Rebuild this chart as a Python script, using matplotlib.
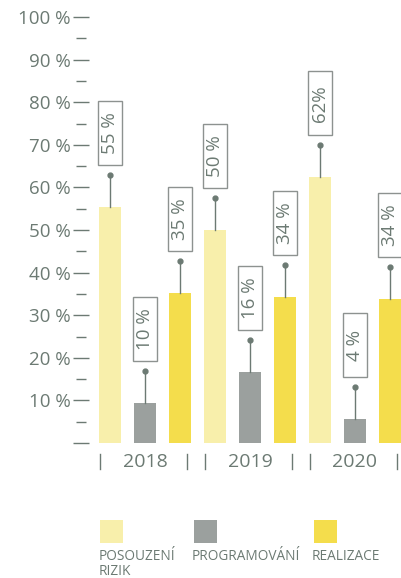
import matplotlib
matplotlib.use("Agg")
import matplotlib.pyplot as plt
from matplotlib.patches import Rectangle

plt.rcParams["font.family"] = ["Open Sans", "DejaVu Sans"]

#----Données----
roky = ["2018", "2019", "2020"]
kategorie = ["POSOUZENÍ\nRIZIK", "PROGRAMOVÁNÍ", "REALIZACE"]
hodnoty = [55.4, 9.4, 35.2, 50.0, 16.7, 34.3, 62.4, 5.6, 33.8]
popisky = ["55 %", "10 %", "35 %", "50 %", "16 %", "34 %", "62%", "4 %", "34 %"]
chyba = 7.5
barvy = ["#f8efab", "#9ba09e", "#f4dd4c"]
text_c = "#6c7a73"
W, H = 402, 578

fig = plt.figure(figsize=(W / 100, H / 100), dpi=100)
ax = fig.add_axes([81 / W, 1 - 443 / H, (W - 81) / W, 426 / H])
ax.set_xlim(-29 / 35, 292 / 35)
ax.set_ylim(0, 100)
for s in ax.spines.values():
    s.set_visible(False)

# osa y
ax.set_yticks(range(0, 101, 10))
ax.set_yticklabels([""] + [f"{v} %" for v in range(10, 101, 10)])
ax.set_yticks(range(5, 100, 10), minor=True)
ax.tick_params(axis="y", which="major", direction="inout", length=12, width=1,
               color=text_c, labelcolor=text_c, labelsize=13.5, pad=1.5)
ax.tick_params(axis="y", which="minor", direction="inout", length=7, width=1, color=text_c)
ax.set_xticks([])

px_y = 100 / 426  # jednotky dat na pixel
for i, (h, lab) in enumerate(zip(hodnoty, popisky)):
    ax.bar(i, h, width=22 / 35, color=barvy[i % 3], clip_on=False)
    ax.plot([i, i], [h, h + chyba], color=text_c, lw=1, clip_on=False)
    ax.plot(i, h + chyba, "o", ms=3.5, color=text_c, clip_on=False)
    y0 = h + chyba + 10 * px_y
    ax.add_patch(Rectangle((i - 12 / 35, y0), 24 / 35, 64 * px_y, fc="white",
                           ec="#8d9290", lw=1, clip_on=False))
    ax.text(i, y0 + 32 * px_y, lab, rotation=90, ha="center", va="center",
            fontsize=13.5, color=text_c, clip_on=False)

# roky
for g, r in enumerate(roky):
    c = 1 + 3 * g
    ax.text(c, -19 * px_y, r, ha="center", va="center", fontsize=14, color=text_c)
    for dx in (-1.29, 1.2):
        ax.plot([c + dx, c + dx], [-11 * px_y, -26 * px_y], color=text_c, lw=1, clip_on=False)

# legenda
for x0, xt, k, b in zip([100, 194, 314], [99, 192, 312], kategorie, barvy):
    fig.add_artist(Rectangle((x0 / W, 1 - 543 / H), 23 / W, 23 / H, fc=b, ec="none",
                             transform=fig.transFigure))
    fig.text(xt / W, 1 - 549 / H, k, ha="left", va="top", fontsize=9.8, color=text_c,
             linespacing=1.0)

plt.savefig("out.png", dpi=100)
